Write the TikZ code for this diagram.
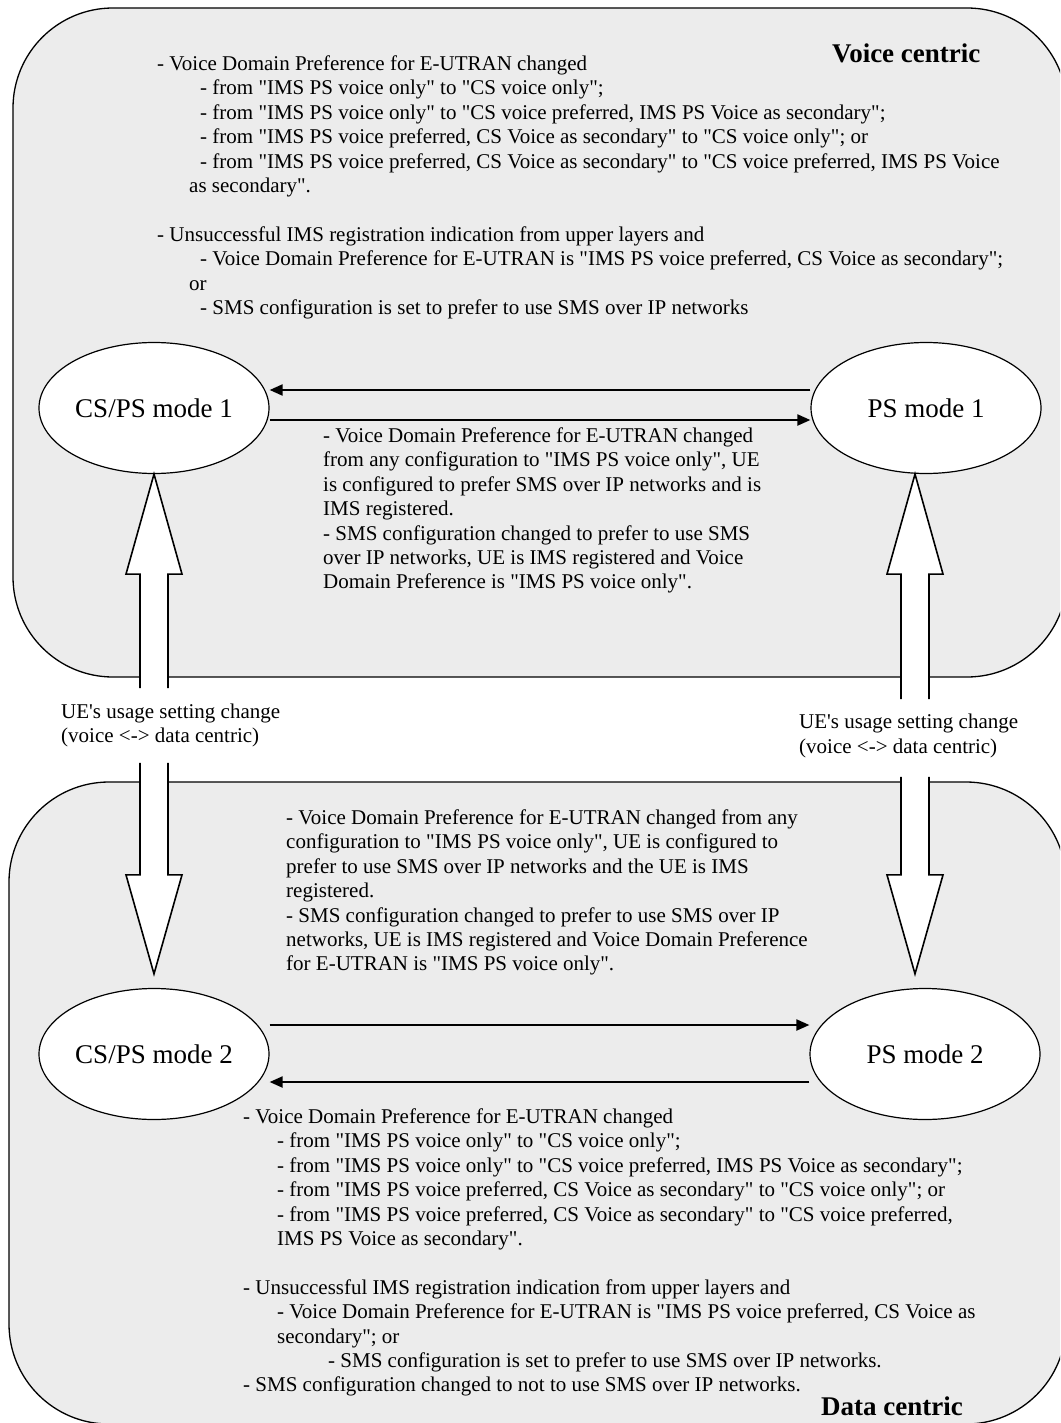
\documentclass[tikz,border=0pt]{standalone}
\usepackage{fontspec}
\setmainfont{Liberation Serif}[Ligatures=TeXOff]
\usetikzlibrary{calc,arrows.meta,positioning,shapes.geometric}
\definecolor{boxgray}{RGB}{236,236,236}

\begin{document}
\begin{tikzpicture}[
  x=1pt,y=-1pt,>={Triangle[length=13pt,width=11pt]},
  every node/.style={font=\fontsize{21}{24.4}\selectfont,inner sep=0pt},
  area/.style={draw,line width=1.3pt,fill=boxgray,rounded corners=100pt},
  opmode/.style={ellipse,draw,line width=1.2pt,fill=white,minimum width=230pt,minimum height=131pt,font=\fontsize{27}{30}\selectfont},
  flow/.style={->,line width=2pt},
  hollow/.style={draw,fill=white,line width=1.6pt,line join=miter},
  cond/.style={anchor=north west,align=left},
  areatitle/.style={anchor=base west,font=\fontsize{27}{30}\selectfont\bfseries}
]
  \useasboundingbox (0,0) rectangle (1060,1423);
  \clip (0,0) rectangle (1060,1423);

  % Voice centric / Data centric areas
  \draw[area] (13,8) rectangle (1067,677);
  \draw[area] (9,782) rectangle (1066,1424);

  % Modes of operation
  \node[opmode] (cs1) at (154,408)  {CS/PS mode 1};
  \node[opmode] (ps1) at (926,408)  {PS mode 1};
  \node[opmode] (cs2) at (154,1054) {CS/PS mode 2};
  \node[opmode] (ps2) at (925,1054) {PS mode 2};

  % Transitions inside one area
  \draw[flow] ($(ps1.west)+(0,-18)$) -- ($(cs1.east)+(0,-18)$);
  \draw[flow] ($(cs1.east)+(0,12)$)  -- ($(ps1.west)+(0,12)$);
  \draw[flow] ($(cs2.east)+(0,-29)$) -- ($(ps2.west)+(0,-29)$);
  \draw[flow] ($(ps2.west)+(0,28)$)  -- ($(cs2.east)+(0,28)$);

  % Usage setting change (hollow arrows, open where the label sits)
  \filldraw[hollow] ($(cs1.south)+(-14,214)$) -- ++(0,-114) -- ++(-14,0) -- (cs1.south) -- ++(28,100) -- ++(-14,0) -- ++(0,114);
  \filldraw[hollow] ($(cs2.north)+(-14,-225)$) -- ++(0,112) -- ++(-14,0) -- ($(cs2.north)+(0,-14)$) -- ++(28,-99) -- ++(-14,0) -- ++(0,-112);
  \filldraw[hollow] ($(ps1.south)+(-25,225)$) -- ++(0,-125) -- ++(-14,0) -- ($(ps1.south)+(-11,0)$) -- ++(28,100) -- ++(-14,0) -- ++(0,125);
  \filldraw[hollow] ($(ps2.north)+(-24,-211)$) -- ++(0,98) -- ++(-14,0) -- ($(ps2.north)+(-10,-14)$) -- ++(28,-99) -- ++(-14,0) -- ++(0,-98);

  \node[cond] (lswitch) at (61,703.5) {UE's usage setting change\\(voice <-> data centric)};
  \node[cond] (rswitch) at (799,714)  {UE's usage setting change\\(voice <-> data centric)};

  % Area titles
  \node[areatitle] (vtitle) at (832,63)   {Voice centric};
  \node[areatitle] (dtitle) at (821,1415) {Data centric};

  % Conditions: data centric -> voice centric (top area)
  \node[cond] (vcond) at (157,55.5) {- Voice Domain Preference for E-UTRAN changed\\
    \hspace*{43pt}- from "IMS PS voice only" to "CS voice only";\\
    \hspace*{43pt}- from "IMS PS voice only" to "CS voice preferred, IMS PS Voice as secondary";\\
    \hspace*{43pt}- from "IMS PS voice preferred, CS Voice as secondary" to "CS voice only"; or\\
    \hspace*{43pt}- from "IMS PS voice preferred, CS Voice as secondary" to "CS voice preferred, IMS PS Voice\\
    \hspace*{32pt}as secondary".\\[24.4pt]
    - Unsuccessful IMS registration indication from upper layers and\\
    \hspace*{43pt}- Voice Domain Preference for E-UTRAN is "IMS PS voice preferred, CS Voice as secondary";\\
    \hspace*{32pt}or\\
    \hspace*{43pt}- SMS configuration is set to prefer to use SMS over IP networks};

  % CS/PS mode 1 -> PS mode 1
  \node[cond] (pcond1) at (323,427.5) {- Voice Domain Preference for E-UTRAN changed\\
    from any configuration to "IMS PS voice only", UE\\
    is configured to prefer SMS over IP networks and is\\
    IMS registered.\\
    - SMS configuration changed to prefer to use SMS\\
    over IP networks, UE is IMS registered and Voice\\
    Domain Preference is "IMS PS voice only".};

  % CS/PS mode 2 -> PS mode 2
  \node[cond] (pcond2) at (286,809.5) {- Voice Domain Preference for E-UTRAN changed from any\\
    configuration to "IMS PS voice only", UE is configured to\\
    prefer to use SMS over IP networks and the UE is IMS\\
    registered.\\
    - SMS configuration changed to prefer to use SMS over IP\\
    networks, UE is IMS registered and Voice Domain Preference\\
    for E-UTRAN is "IMS PS voice only".};

  % PS mode 2 -> CS/PS mode 2 (bottom area)
  \node[cond] (dcond) at (243,1108.5) {- Voice Domain Preference for E-UTRAN changed\\
    \hspace*{34pt}- from "IMS PS voice only" to "CS voice only";\\
    \hspace*{34pt}- from "IMS PS voice only" to "CS voice preferred, IMS PS Voice as secondary";\\
    \hspace*{34pt}- from "IMS PS voice preferred, CS Voice as secondary" to "CS voice only"; or\\
    \hspace*{34pt}- from "IMS PS voice preferred, CS Voice as secondary" to "CS voice preferred,\\
    \hspace*{34pt}IMS PS Voice as secondary".\\[24.4pt]
    - Unsuccessful IMS registration indication from upper layers and\\
    \hspace*{34pt}- Voice Domain Preference for E-UTRAN is "IMS PS voice preferred, CS Voice as\\
    \hspace*{34pt}secondary"; or\\
    \hspace*{85pt}- SMS configuration is set to prefer to use SMS over IP networks.\\
    - SMS configuration changed to not to use SMS over IP networks.};
\end{tikzpicture}
\end{document}
